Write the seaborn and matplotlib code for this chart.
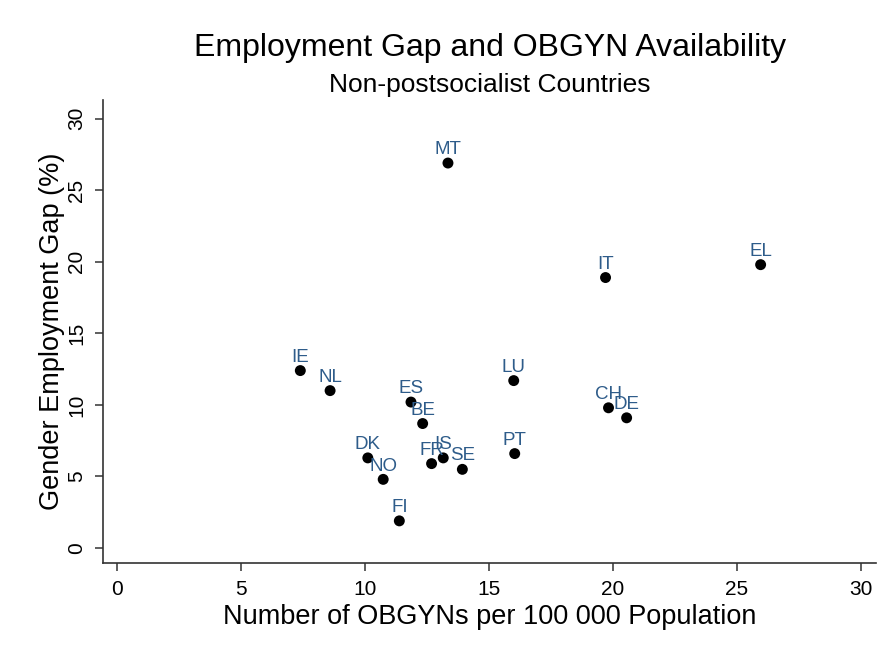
import matplotlib
matplotlib.use("Agg")
import matplotlib.pyplot as plt
import seaborn as sns
import pandas as pd

countries = ["MT", "IT", "EL", "IE", "NL", "ES", "BE", "LU", "CH", "DE",
             "DK", "NO", "FR", "IS", "SE", "PT", "FI"]
obgyn = [13.35, 19.70, 25.95, 7.40, 8.60, 11.86, 12.33, 16.00, 19.82, 20.55,
         10.12, 10.74, 12.69, 13.16, 13.93, 16.04, 11.39]
gap = [26.9, 18.9, 19.8, 12.4, 11.0, 10.2, 8.7, 11.7, 9.8, 9.1,
       6.3, 4.8, 5.9, 6.3, 5.5, 6.6, 1.9]
ticks = [0, 5, 10, 15, 20, 25, 30]

df = pd.DataFrame({"country": countries, "obgyn": obgyn, "gap": gap})

sns.set_theme(style="white")
plt.rcParams["font.family"] = ["Liberation Sans", "DejaVu Sans"]
plt.rcParams["text.color"] = "black"
plt.rcParams["axes.labelcolor"] = "black"
plt.rcParams["xtick.color"] = "black"
plt.rcParams["ytick.color"] = "black"

fig = plt.figure(figsize=(8.89, 6.54), dpi=100)
ax = fig.add_axes([0.1159, 0.139, 0.8695, 0.708])

sns.scatterplot(data=df, x="obgyn", y="gap", ax=ax, color="black",
                s=62, edgecolor="none", legend=False, zorder=3)

for c, xv, yv in zip(countries, obgyn, gap):
    ax.annotate(c, (xv, yv), xytext=(0, 3.5), textcoords="offset points",
                ha="center", va="bottom", fontsize=13.5, color="#2e5c8a")

ax.set_xlim(-0.55, 30.6)
ax.set_ylim(-1.05, 31.3)
ax.set_xticks(ticks)
ax.set_yticks(ticks)
ax.set_xticklabels([str(t) for t in ticks], fontsize=15)
ax.set_yticklabels([str(t) for t in ticks], fontsize=15, rotation=90, va="center")

for side in ["top", "right"]:
    ax.spines[side].set_visible(False)
for side in ["left", "bottom"]:
    ax.spines[side].set_color("#333333")
    ax.spines[side].set_linewidth(1.2)
ax.tick_params(axis="both", which="both", direction="out", length=6, width=1.1,
               color="#333333", labelcolor="black", left=True, bottom=True, pad=6)

ax.set_xlabel("Number of OBGYNs per 100 000 Population", fontsize=19.5, labelpad=4)
ax.set_ylabel("Gender Employment Gap (%)", fontsize=19.5, labelpad=2)

fig.text(0.551, 0.927, "Employment Gap and OBGYN Availability", ha="center",
         va="center", fontsize=23, color="black")
fig.text(0.551, 0.870, "Non-postsocialist Countries", ha="center",
         va="center", fontsize=19, color="black")

fig.savefig("out.png", dpi=100, facecolor="white")
